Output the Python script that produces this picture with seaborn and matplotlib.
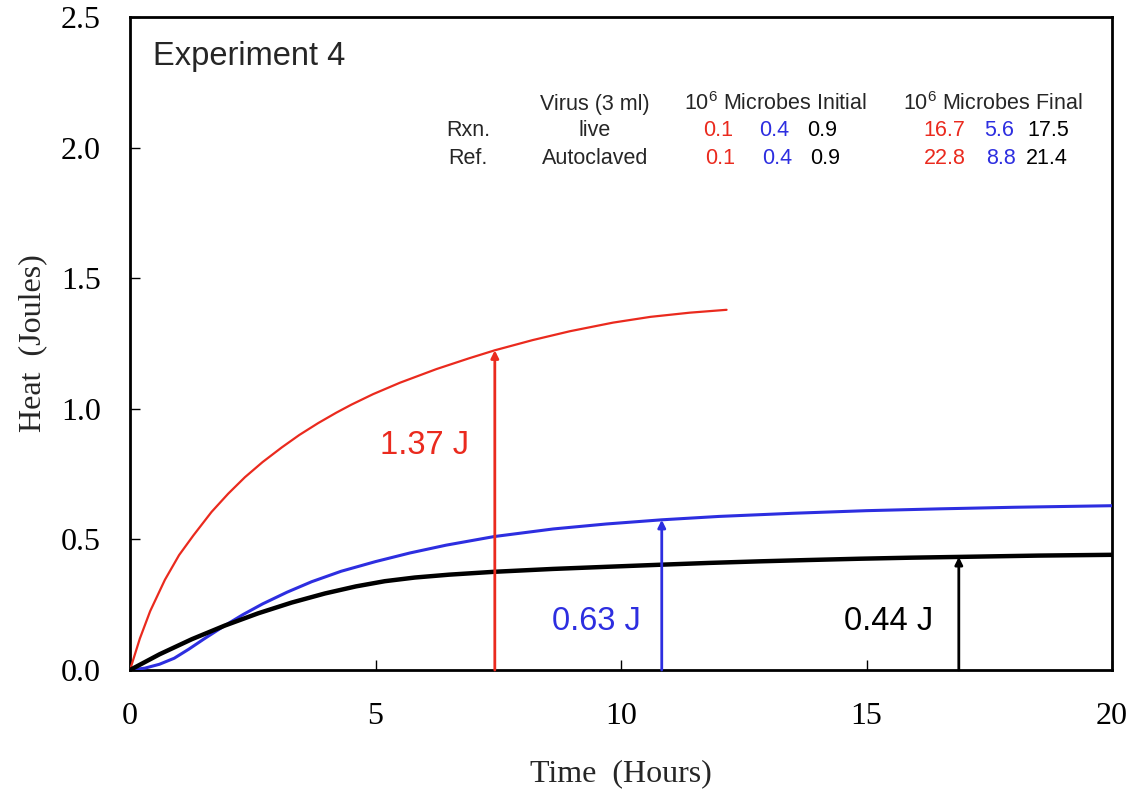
import matplotlib
matplotlib.use("Agg")
import matplotlib.pyplot as plt
import seaborn as sns
import pandas as pd

# ---------------- data ----------------
red_t = [0, 0.2, 0.41, 0.71, 1.0, 1.29, 1.66, 2.0, 2.34, 2.7, 3.09, 3.45, 3.83, 4.2, 4.51,
         4.95, 5.5, 6.24, 6.9, 7.43, 8.2, 8.96, 9.84, 10.6, 11.4, 12.15]
red_v = [0, 0.12, 0.225, 0.345, 0.44, 0.515, 0.605, 0.675, 0.738, 0.796, 0.852, 0.9, 0.945,
         0.985, 1.016, 1.056, 1.10, 1.152, 1.193, 1.224, 1.263, 1.297, 1.33, 1.352, 1.368, 1.379]

blue_t = [0, 0.3, 0.6, 0.9, 1.2, 1.5, 1.93, 2.3, 2.7, 3.2, 3.7, 4.3, 5.0, 5.7, 6.44, 7.42,
          8.62, 9.7, 10.83, 12.0, 13.5, 15.0, 16.5, 18.0, 20.0]
blue_v = [0, 0.007, 0.022, 0.045, 0.08, 0.118, 0.17, 0.212, 0.253, 0.298, 0.338, 0.378,
          0.415, 0.448, 0.478, 0.511, 0.540, 0.559, 0.575, 0.588, 0.600, 0.610, 0.617, 0.623,
          0.629]

black_t = [0, 0.6, 1.26, 1.93, 2.61, 3.29, 3.97, 4.6, 5.19, 5.8, 6.5, 7.42, 8.62, 9.7, 10.8,
           11.8, 12.82, 13.8, 14.86, 15.9, 16.9, 18.5, 20.0]
black_v = [0, 0.06, 0.118, 0.17, 0.217, 0.258, 0.293, 0.32, 0.34, 0.354, 0.365, 0.376, 0.387,
           0.395, 0.403, 0.41, 0.416, 0.421, 0.426, 0.43, 0.433, 0.438, 0.441]

series_names = ["red", "blue", "black"]
series_colors = {"red": "#ea2a1e", "blue": "#2d2ee0", "black": "#000000"}
series_widths = {"red": 1.6, "blue": 2.2, "black": 3.2}

# arrows: x position, top value, label
arrow_x = [7.43, 10.83, 16.88]
arrow_top = [1.224, 0.575, 0.433]
arrow_labels = ["1.37 J", "0.63 J", "0.44 J"]

# table
header_labels = ["Virus (3 ml)", "10$^{\\mathregular{6}}$ Microbes Initial",
                 "10$^{\\mathregular{6}}$ Microbes Final"]
row_labels = ["Rxn.", "Ref."]
virus_labels = ["live", "Autoclaved"]
initial_counts = [["0.1", "0.4", "0.9"], ["0.1", "0.4", "0.9"]]
final_counts = [["16.7", "5.6", "17.5"], ["22.8", "8.8", "21.4"]]

x_ticks = [0, 5, 10, 15, 20]
y_ticks = [0.0, 0.5, 1.0, 1.5, 2.0, 2.5]

# ---------------- figure ----------------
sns.set_style("ticks")
plt.rcParams["font.family"] = ["Liberation Sans", "DejaVu Sans"]
plt.rcParams["mathtext.fontset"] = "custom"
plt.rcParams["mathtext.rm"] = "Liberation Sans"

W, H = 1136, 797
fig = plt.figure(figsize=(W / 100, H / 100), dpi=100)
L, R, T, B = 130, 1112, 17, 670
ax = fig.add_axes([L / W, 1 - B / H, (R - L) / W, (B - T) / H])

df = pd.concat([
    pd.DataFrame({"t": red_t, "v": red_v, "s": "red"}),
    pd.DataFrame({"t": blue_t, "v": blue_v, "s": "blue"}),
    pd.DataFrame({"t": black_t, "v": black_v, "s": "black"}),
], ignore_index=True)

for name in series_names:
    sns.lineplot(data=df[df["s"] == name], x="t", y="v", color=series_colors[name],
                 lw=series_widths[name], sort=False, estimator=None, ax=ax, legend=False,
                 zorder=3)

# arrows
label_pos = [(6.0, 0.86), (9.5, 0.185), (15.45, 0.185)]
for xa, top, lab, name, pos in zip(arrow_x, arrow_top, arrow_labels, series_names, label_pos):
    c = series_colors[name]
    ax.annotate("", xy=(xa, top), xytext=(xa, 0),
                arrowprops=dict(arrowstyle="-|>", color=c, lw=2.0, mutation_scale=11,
                                shrinkA=0, shrinkB=0), zorder=4)
    ax.text(pos[0], pos[1], lab, color=c, fontsize=23.5, ha="center", va="center")

ax.set_xlim(0, 20)
ax.set_ylim(0, 2.5)
ax.set_xticks(x_ticks)
ax.set_xticklabels([str(v) for v in x_ticks])
ax.set_yticks(y_ticks)
ax.set_yticklabels([f"{v:.1f}" for v in y_ticks])

serif = ["Liberation Serif", "DejaVu Serif"]
for lbl in ax.get_xticklabels() + ax.get_yticklabels():
    lbl.set_family(serif)
    lbl.set_fontsize(23)
ax.tick_params(axis="x", direction="in", length=7, width=1, pad=23, colors="black")
ax.tick_params(axis="y", direction="in", length=7, width=1, pad=21, colors="black")

ax.set_xlabel("Time  (Hours)", family=serif, fontsize=23, labelpad=20)
ax.set_ylabel("Heat  (Joules)", family=serif, fontsize=23, labelpad=10)

for sp in ax.spines.values():
    sp.set_visible(True)
    sp.set_linewidth(2.0)
    sp.set_color("black")

# title text inside
ax.text(0.0234, 0.939, "Experiment 4", transform=ax.transAxes, fontsize=23.5,
        ha="left", va="center")

# table (positions in pixels -> data coords)
def px2d(px, py):
    return ((px - L) / (R - L) * 20, (B - py) / (B - T) * 2.5)

tsize = 15.5
hx = [595, 776, 993]
for x, lab in zip(hx, header_labels):
    ax.text(*px2d(x, 104), lab, fontsize=tsize, ha="center", va="center")

row_y = [131, 158]
init_x = [[718, 774, 822], [720, 777, 825]]
final_x = [[944, 999, 1048], [945, 1001, 1047]]
for i, y in enumerate(row_y):
    ax.text(*px2d(468, y), row_labels[i], fontsize=tsize, ha="center", va="center")
    ax.text(*px2d(595, y), virus_labels[i], fontsize=tsize, ha="center", va="center")
    for j, name in enumerate(series_names):
        ax.text(*px2d(init_x[i][j], y), initial_counts[i][j], color=series_colors[name],
                fontsize=tsize, ha="center", va="center")
        ax.text(*px2d(final_x[i][j], y), final_counts[i][j], color=series_colors[name],
                fontsize=tsize, ha="center", va="center")

fig.savefig("out.png", dpi=100)
